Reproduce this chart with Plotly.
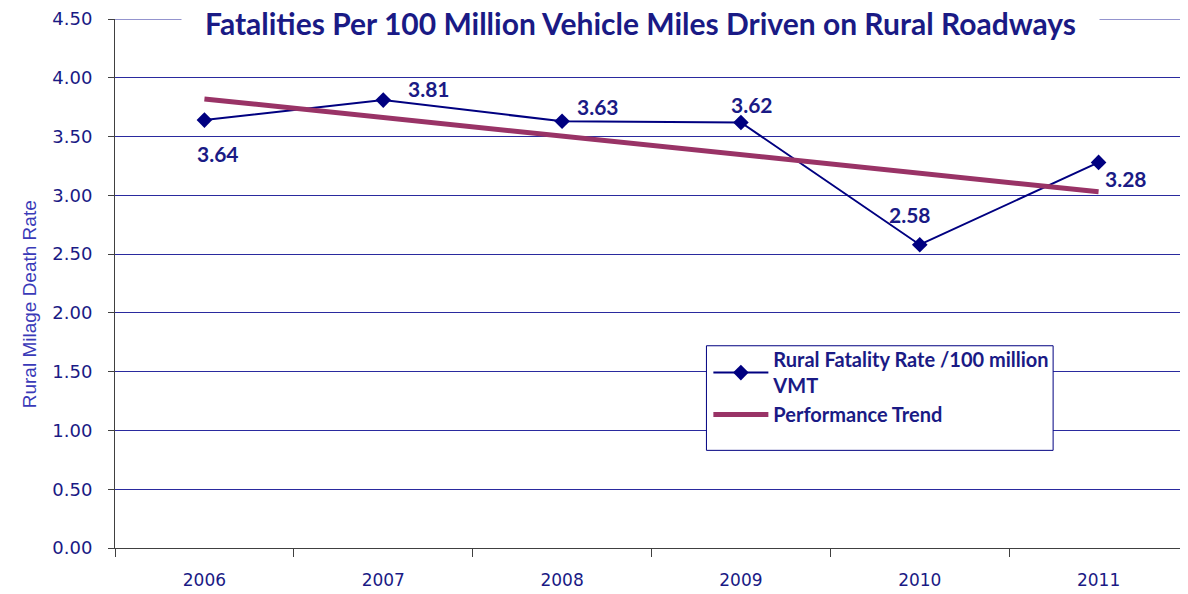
import plotly.graph_objects as go

years = ["2006", "2007", "2008", "2009", "2010", "2011"]
rate = [3.64, 3.81, 3.63, 3.62, 2.58, 3.28]
trend = [3.82, 3.66, 3.51, 3.35, 3.19, 3.03]
label_dx = [14, 46, 36, 11, -10, 27]
label_dy = [-33, 12, 15, 18, 30, -16]
yticks = [0, 0.5, 1, 1.5, 2, 2.5, 3, 3.5, 4, 4.5]

NAVY = "#000080"
TXT = "#1a1a85"
GRID = "#2a2a9e"

fig = go.Figure()
fig.add_trace(go.Scatter(
    x=years, y=rate, mode="lines+markers",
    name="Rural Fatality Rate /100 million<br>VMT",
    line=dict(color=NAVY, width=2),
    marker=dict(symbol="diamond", size=12, color=NAVY),
))
fig.add_trace(go.Scatter(
    x=years, y=trend, mode="lines", name="Performance Trend",
    line=dict(color="#993366", width=5),
))

for i, (v, dx, dy) in enumerate(zip(rate, label_dx, label_dy)):
    fig.add_annotation(x=i, y=v, xref="x", yref="y", text=f"{v:.2f}", showarrow=False,
                       xshift=dx, yshift=dy,
                       font=dict(family="Lato", size=21, color=TXT, weight="bold"))

# top gridline (at range end)
fig.add_shape(type="line", xref="paper", yref="y", x0=0, x1=1, y0=yticks[-1], y1=yticks[-1],
              line=dict(color=GRID, width=1), layer="below")

# title with white box
fig.add_annotation(xref="paper", yref="paper", x=0.49, y=1, yanchor="middle", yshift=-4,
                   text="Fatalities Per 100 Million Vehicle Miles Driven on Rural Roadways",
                   showarrow=False, bgcolor="white", width=915,
                   font=dict(family="Lato", size=30, color=TXT, weight="bold"))

# y axis title
fig.add_annotation(xref="paper", yref="paper", x=-0.0912, y=0.46,
                   text="Rural Milage Death Rate", textangle=-90, showarrow=False,
                   font=dict(family="Liberation Sans", size=19, color="#3a3ab8"))

# legend box
fig.add_shape(type="rect", xref="paper", yref="paper",
              x0=0.5512, x1=0.8743, y0=0.1846, y1=0.3823,
              line=dict(color=NAVY, width=1), fillcolor="white", layer="above")

fig.update_layout(
    width=1180, height=586,
    margin=dict(l=107, r=0, t=9, b=46),
    plot_bgcolor="white", paper_bgcolor="white",
    showlegend=True,
    legend=dict(x=0.553, y=0.393, xanchor="left", yanchor="top",
                bgcolor="rgba(0,0,0,0)", borderwidth=0, itemwidth=55,
                font=dict(family="Lato", size=20, color=TXT, weight="bold"),
                tracegroupgap=0),
    xaxis=dict(type="category", range=[-0.5, 5.5], showgrid=False,
               showline=True, linecolor="#404040", linewidth=1,
               ticks="outside", tickson="boundaries", ticklen=8, tickcolor="#404040",
               ticklabelstandoff=17, ticklabeloverflow="allow",
               tickfont=dict(family="DejaVu Sans", size=17, color=TXT)),
    yaxis=dict(range=[0, 4.5], tickvals=yticks, tickformat=".2f",
               showgrid=True, gridcolor=GRID, gridwidth=1,
               showline=True, linecolor="#404040", linewidth=1,
               ticks="outside", ticklen=6, tickcolor="#404040",
               ticklabelstandoff=12, zeroline=False, ticklabeloverflow="allow",
               tickfont=dict(family="DejaVu Sans", size=18, color=TXT)),
)

fig.write_html("out.html")
